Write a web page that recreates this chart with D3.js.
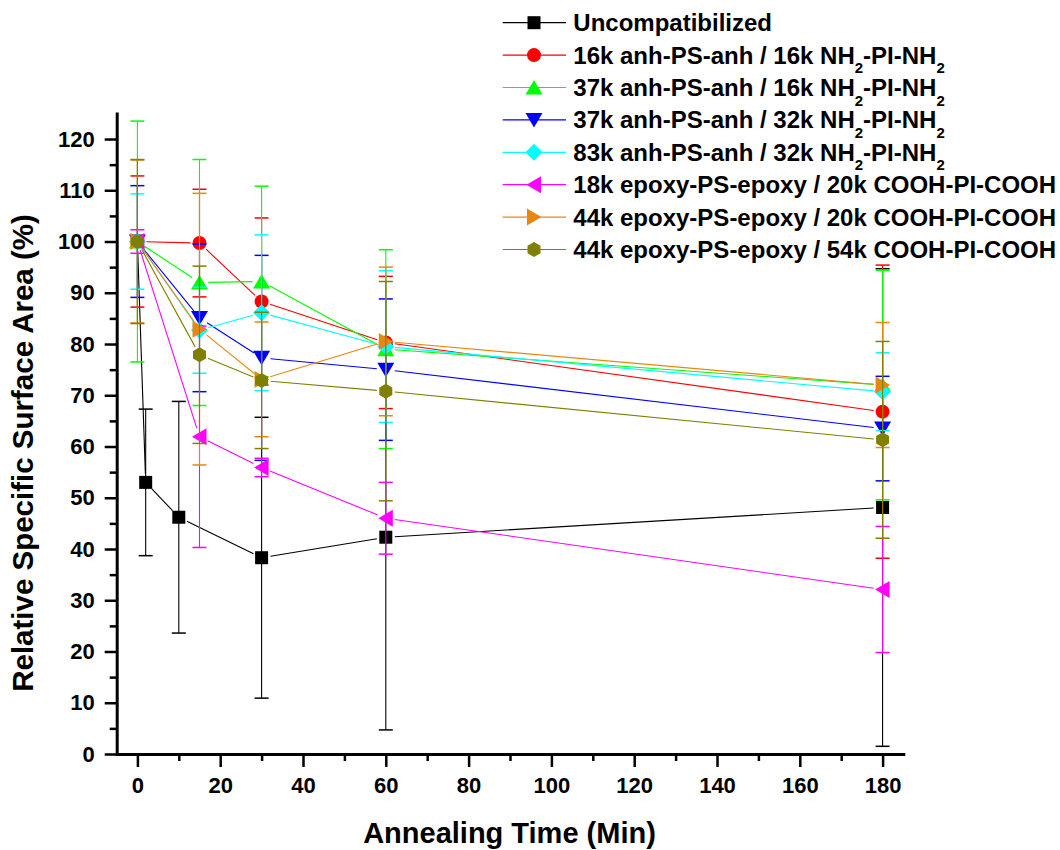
<!DOCTYPE html>
<html>
<head>
<meta charset="utf-8">
<script src="https://cdn.jsdelivr.net/npm/d3@7"></script>
<style>
  body { margin: 0; background: #ffffff; }
  svg { display: block; font-family: "Liberation Sans", Arial, sans-serif; font-weight: bold; }
</style>
</head>
<body>
<svg id="chart" width="1060" height="850"></svg>
<script>
// --- data ---
const timesUncomp = [0, 2, 10, 30, 60, 180];
const times = [0, 15, 30, 60, 180];

const seriesNames = [
  "Uncompatibilized",
  "16k anh-PS-anh / 16k NH_2-PI-NH_2",
  "37k anh-PS-anh / 16k NH_2-PI-NH_2",
  "37k anh-PS-anh / 32k NH_2-PI-NH_2",
  "83k anh-PS-anh / 32k NH_2-PI-NH_2",
  "18k epoxy-PS-epoxy / 20k COOH-PI-COOH",
  "44k epoxy-PS-epoxy / 20k COOH-PI-COOH",
  "44k epoxy-PS-epoxy / 54k COOH-PI-COOH"
];
const seriesColors = ["#000000", "#ff0000", "#00ff00", "#0000ff", "#00ffff", "#ff00ff", "#e8870f", "#808000"];
const seriesSymbols = ["square", "circle", "triangleUp", "triangleDown", "diamond", "triangleLeft", "triangleRight", "hexagon"];

const uncompVals  = [100, 53.0, 46.2, 38.3, 42.3, 48.1];
const uncompErr   = [0, 14.3, 22.6, 27.4, 37.6, 46.6];
const anh16Vals   = [100, 99.7, 88.3, 80.3, 66.8];
const anh16Err    = [12.8, 10.5, 16.3, 12.9, 28.6];
const anh37aVals  = [100, 92.0, 92.2, 79.0, 72.0];
const anh37aErr   = [23.5, 24.0, 18.6, 19.4, 22.4];
const anh37bVals  = [100, 85.1, 77.3, 75.0, 63.5];
const anh37bErr   = [10.9, 14.4, 20.0, 13.8, 10.2];
const anh83Vals   = [100, 82.7, 86.1, 79.5, 70.7];
const anh83Err    = [9.3, 8.4, 15.2, 14.8, 7.6];
const epo18Vals   = [100, 61.9, 55.9, 46.0, 32.1];
const epo18Err    = [2.3, 21.6, 1.8, 7.0, 12.3];
const epo44aVals  = [100, 82.9, 73.1, 80.5, 72.0];
const epo44aErr   = [15.9, 26.5, 11.2, 14.5, 12.2];
const epo44bVals  = [100, 77.9, 72.9, 70.8, 61.3];
const epo44bErr   = [16.0, 17.3, 13.3, 21.4, 19.2];

const xTicks = [0, 20, 40, 60, 80, 100, 120, 140, 160, 180];
const xMinor = [10, 30, 50, 70, 90, 110, 130, 150, 170];
const yTicks = [0, 10, 20, 30, 40, 50, 60, 70, 80, 90, 100, 110, 120];
const yMinor = [5, 15, 25, 35, 45, 55, 65, 75, 85, 95, 105, 115];

const seriesData = [
  [timesUncomp, uncompVals, uncompErr],
  [times, anh16Vals, anh16Err],
  [times, anh37aVals, anh37aErr],
  [times, anh37bVals, anh37bErr],
  [times, anh83Vals, anh83Err],
  [times, epo18Vals, epo18Err],
  [times, epo44aVals, epo44aErr],
  [times, epo44bVals, epo44bErr]
];

// --- layout ---
const svg = d3.select("#chart");
const plotLeft = 116.7, plotRight = 903.3, plotTop = 113.4, plotBottom = 754;

const x = d3.scaleLinear().domain([-5, 185]).range([plotLeft, plotRight]);
const y = d3.scaleLinear().domain([0, 125]).range([plotBottom, plotTop]);

// marker shapes, sized in pixels
function symbolPath(type) {
  switch (type) {
    case "square": return "M-6.5,-6.5H6.5V6.5H-6.5Z";
    case "circle": return "M7,0A7,7 0 1,1 -7,0A7,7 0 1,1 7,0Z";
    case "triangleUp": return "M0,-7.5L8.5,7L-8.5,7Z";
    case "triangleDown": return "M0,7.5L8.5,-7L-8.5,-7Z";
    case "triangleLeft": return "M-7.5,0L7,-8.5L7,8.5Z";
    case "triangleRight": return "M7.5,0L-7,-8.5L-7,8.5Z";
    case "diamond": return "M0,-8.5L8.5,0L0,8.5L-8.5,0Z";
    case "hexagon": {
      const r = 7.5;
      const pts = d3.range(6).map(i => {
        const a = Math.PI / 3 * i - Math.PI / 2;
        return [r * Math.cos(a), r * Math.sin(a)];
      });
      return "M" + pts.map(p => p[0].toFixed(2) + "," + p[1].toFixed(2)).join("L") + "Z";
    }
  }
}

// --- axes ---
const axisG = svg.append("g");

const yAxis = axisG.append("g").attr("transform", `translate(${plotLeft},0)`)
  .call(d3.axisLeft(y).tickValues(yTicks).tickSize(12).tickSizeOuter(0).tickPadding(10).tickFormat(d3.format("d")));
const yAxisMinor = axisG.append("g").attr("transform", `translate(${plotLeft},0)`)
  .call(d3.axisLeft(y).tickValues(yMinor).tickSize(7).tickSizeOuter(0).tickFormat(""));
const xAxis = axisG.append("g").attr("transform", `translate(0,${plotBottom})`)
  .call(d3.axisBottom(x).tickValues(xTicks).tickSize(13).tickSizeOuter(0).tickPadding(10).tickFormat(d3.format("d")));
const xAxisMinor = axisG.append("g").attr("transform", `translate(0,${plotBottom})`)
  .call(d3.axisBottom(x).tickValues(xMinor).tickSize(7).tickSizeOuter(0).tickFormat(""));

[yAxisMinor, xAxisMinor].forEach(a => a.select(".domain").remove());
[yAxis, xAxis, yAxisMinor, xAxisMinor].forEach(a => {
  a.selectAll(".domain").attr("stroke", "#000").attr("stroke-width", 3).attr("stroke-linecap", "square");
  a.selectAll(".tick line").attr("stroke", "#000").attr("stroke-width", 2.5);
  a.selectAll(".tick text")
    .attr("fill", "#000")
    .style("font-family", "'Liberation Sans', Arial, sans-serif")
    .style("font-weight", "bold")
    .style("font-size", "22px");
});

// axis titles
svg.append("text")
  .attr("x", 509.5).attr("y", 843)
  .attr("text-anchor", "middle")
  .style("font-size", "29px")
  .text("Annealing Time (Min)");

svg.append("text")
  .attr("transform", "translate(33,453) rotate(-90)")
  .attr("text-anchor", "middle")
  .style("font-size", "29.5px")
  .text("Relative Specific Surface Area (%)");

// --- series ---
const gap = 9; // Origin-style gap between line and symbol
const capHalf = 7;

seriesData.forEach((s, k) => {
  const [xs, vals, errs] = s;
  const color = seriesColors[k];
  const g = svg.append("g");
  const pts = xs.map((t, i) => ({ px: x(t), py: y(vals[i]), err: errs[i], v: vals[i] }));

  // connecting line, broken at each symbol
  for (let i = 0; i < pts.length - 1; i++) {
    const a = pts[i], b = pts[i + 1];
    const dx = b.px - a.px, dy = b.py - a.py;
    const len = Math.hypot(dx, dy);
    if (len <= 2 * gap) continue;
    const ux = dx / len, uy = dy / len;
    g.append("line")
      .attr("x1", a.px + ux * gap).attr("y1", a.py + uy * gap)
      .attr("x2", b.px - ux * gap).attr("y2", b.py - uy * gap)
      .attr("stroke", color).attr("stroke-width", 1.1);
  }

  // error bars
  pts.forEach(p => {
    if (!p.err) return;
    const yt = y(p.v + p.err), yb = y(p.v - p.err);
    g.append("line").attr("x1", p.px).attr("x2", p.px).attr("y1", yt).attr("y2", yb)
      .attr("stroke", color).attr("stroke-width", 1.1);
    [yt, yb].forEach(yy => {
      g.append("line").attr("x1", p.px - capHalf).attr("x2", p.px + capHalf).attr("y1", yy).attr("y2", yy)
        .attr("stroke", color).attr("stroke-width", 1.5);
    });
  });

  // symbols
  g.selectAll("path.sym").data(pts).enter().append("path")
    .attr("class", "sym")
    .attr("transform", d => `translate(${d.px},${d.py})`)
    .attr("d", symbolPath(seriesSymbols[k]))
    .attr("fill", color);
});

// --- legend ---
const legend = svg.append("g");
const legX0 = 502.7, legX1 = 566, legMark = 534, legText = 573.3;
seriesNames.forEach((name, k) => {
  const cy = 22.7 + k * 32.4;
  const color = seriesColors[k];
  legend.append("line").attr("x1", legX0).attr("x2", legX1).attr("y1", cy).attr("y2", cy)
    .attr("stroke", color).attr("stroke-width", 1.2);
  legend.append("path").attr("transform", `translate(${legMark},${cy})`)
    .attr("d", symbolPath(seriesSymbols[k])).attr("fill", color);

  const t = legend.append("text").attr("x", legText).attr("y", cy + 8.5)
    .style("font-size", "24px").attr("fill", "#000");
  const parts = name.split("_2");
  parts.forEach((part, i) => {
    t.append("tspan").text(part).attr("dy", i === 0 ? 0 : -9.5);
    if (i < parts.length - 1) {
      t.append("tspan").text("2").style("font-size", "15px").attr("dy", 9.5);
    }
  });
});
</script>
</body>
</html>
